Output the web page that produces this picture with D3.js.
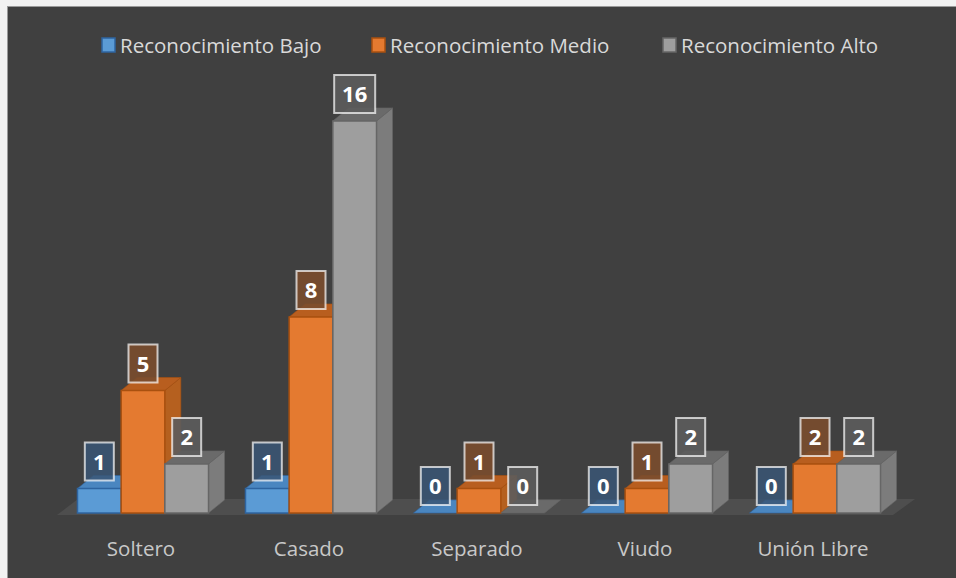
<!DOCTYPE html>
<html>
<head>
<meta charset="utf-8">
<script src="https://cdn.jsdelivr.net/npm/d3@7/dist/d3.min.js"></script>
<style>
  html, body { margin: 0; padding: 0; background: #f2f2f2; }
  svg { display: block; }
</style>
</head>
<body>
<svg id="chart" width="956" height="578"></svg>
<script>
// Estado civil por nivel de reconocimiento
const categories = ["Soltero", "Casado", "Separado", "Viudo", "Unión Libre"];
const seriesNames = ["Reconocimiento Bajo", "Reconocimiento Medio", "Reconocimiento Alto"];
const bajo  = [1, 1, 0, 0, 0];
const medio = [5, 8, 1, 1, 2];
const alto  = [2, 16, 0, 2, 2];
const seriesValues = [bajo, medio, alto];

// Face colours per series: front, top, side, edge, label box
const palette = [
  { front: "#5b9bd5", top: "#4a86c0", side: "#3f77ad", edge: "#2e64a0", box: "rgba(58,86,117,0.85)" },
  { front: "#e47a30", top: "#b85e1f", side: "#b5601f", edge: "#a9500f", box: "rgba(122,76,46,0.9)" },
  { front: "#9e9e9e", top: "#6a6a6a", side: "#7c7c7c", edge: "#666666", box: "rgba(92,92,92,0.9)" }
];

const W = 956, H = 578;
const svg = d3.select("#chart");

// panel
svg.append("rect").attr("x", 0).attr("y", 0).attr("width", W).attr("height", H).attr("fill", "#f2f2f2");
svg.append("rect").attr("x", 7.5).attr("y", 6.5).attr("width", W).attr("height", H)
  .attr("fill", "#404040").attr("stroke", "#9a9a9a").attr("stroke-width", 1);

// scales
const x = d3.scaleBand().domain(categories).range([59, 899]).paddingInner(0.22).paddingOuter(0.11);
const xs = d3.scaleBand().domain(d3.range(seriesNames.length)).range([0, x.bandwidth()]).padding(0);
const y = d3.scaleLinear().domain([0, 16]).range([513, 121]);

const dx = 16, dy = -13; // depth offset of the 3D bars

// floor
const floorFront = y(0) + 2;
svg.append("polygon")
  .attr("points", [[57, floorFront], [893, floorFront], [915, floorFront - 16], [78, floorFront - 16]].map(p => p.join(",")).join(" "))
  .attr("fill", "#4e4e4e");

const bars = svg.append("g");
categories.forEach((cat, ci) => {
  seriesValues.forEach((vals, si) => {
    const v = vals[ci];
    const c = palette[si];
    const x0 = x(cat) + xs(si);
    const x1 = x0 + xs.bandwidth();
    const yb = y(0), yt = y(v);
    const g = bars.append("g");
    if (v > 0) {
      g.append("polygon")
        .attr("points", [[x1, yt], [x1 + dx, yt + dy], [x1 + dx, yb + dy], [x1, yb]].map(p => p.join(",")).join(" "))
        .attr("fill", c.side).attr("stroke", c.edge).attr("stroke-width", 1).attr("stroke-opacity", 0.6);
    }
    g.append("polygon")
      .attr("points", [[x0, yt], [x0 + dx, yt + dy], [x1 + dx, yt + dy], [x1, yt]].map(p => p.join(",")).join(" "))
      .attr("fill", c.top).attr("stroke", c.edge).attr("stroke-width", 1).attr("stroke-opacity", 0.6);
    if (v > 0) {
      g.append("rect")
        .attr("x", x0).attr("y", yt).attr("width", x1 - x0).attr("height", yb - yt)
        .attr("fill", c.front).attr("stroke", c.edge).attr("stroke-width", 1.5);
    }
  });
});

// value labels
const labels = svg.append("g");
categories.forEach((cat, ci) => {
  seriesValues.forEach((vals, si) => {
    const v = vals[ci];
    const cx = x(cat) + xs(si) + xs.bandwidth() / 2;
    const txt = String(v);
    const bw = txt.length > 1 ? 41 : 29, bh = 38;
    const by = y(v) - 8 - bh;
    labels.append("rect")
      .attr("x", cx - bw / 2).attr("y", by).attr("width", bw).attr("height", bh)
      .attr("fill", palette[si].box)
      .attr("stroke", "rgba(255,255,255,0.7)").attr("stroke-width", 2);
    labels.append("text")
      .attr("x", cx).attr("y", by + bh / 2 + 8)
      .attr("text-anchor", "middle")
      .attr("font-family", "'Open Sans', sans-serif")
      .attr("font-weight", 700).attr("font-size", 22)
      .attr("fill", "#ffffff")
      .text(txt);
  });
});

// category axis labels
svg.append("g").selectAll("text").data(categories).join("text")
  .attr("x", d => x(d) + x.bandwidth() / 2 - 2)
  .attr("y", 556)
  .attr("text-anchor", "middle")
  .attr("font-family", "'Open Sans', sans-serif")
  .attr("font-size", 20.5)
  .attr("fill", "#c8c8c8")
  .text(d => d);

// legend
const legendX = [102, 372, 663];
const legend = svg.append("g");
seriesNames.forEach((name, i) => {
  legend.append("rect")
    .attr("x", legendX[i]).attr("y", 38).attr("width", 13).attr("height", 14)
    .attr("fill", palette[i].front).attr("stroke", palette[i].edge).attr("stroke-width", 1.5);
  legend.append("text")
    .attr("x", legendX[i] + 18).attr("y", 52.5)
    .attr("font-family", "'Open Sans', sans-serif")
    .attr("font-size", 20.5)
    .attr("fill", "#d9d9d9")
    .text(name);
});
</script>
</body>
</html>
